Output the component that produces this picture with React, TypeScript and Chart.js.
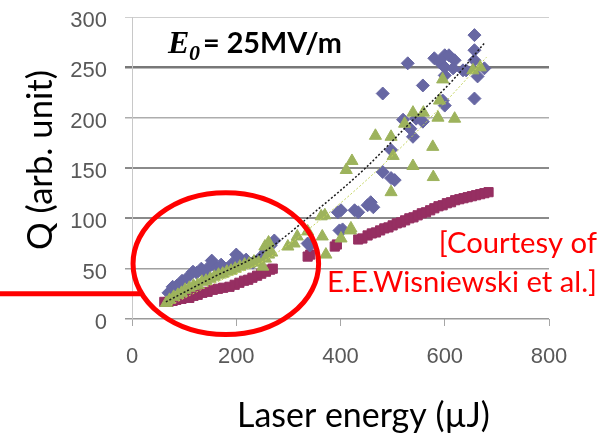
import React, { useEffect, useRef } from "react";
import { Chart, registerables } from "chart.js";

Chart.register(...registerables);

// ---- axes ----
const xMin = 0;
const xMax = 800;
const xStep = 200;
const yMin = 0;
const yMax = 300;
const yStep = 50;

// ---- series 1: blue diamonds ----
const diamondX = [70, 78, 86, 96, 106, 117, 124, 133, 141, 150, 153, 162, 171, 182, 192, 200, 206, 219, 232, 248, 257, 266, 273,
  337, 341, 398, 404, 395, 401, 427, 434, 452, 458, 463,
  481, 497, 497, 504, 520, 534, 539, 545, 558, 481, 529, 558, 580, 590, 600, 608, 619, 600, 616, 635, 600, 596, 600, 641, 657, 657, 657, 663, 676, 657];
const diamondY = [26, 32, 33, 38, 41, 47, 46, 50, 45, 53, 58, 51, 54, 50, 55, 64, 61, 59, 56, 62, 67, 73, 78,
  75, 73, 88, 89, 106, 108, 108, 106, 113, 116, 111,
  146, 140, 168, 138, 198, 189, 181, 199, 196, 224, 254, 232, 259, 255, 262, 262, 257, 250, 249, 247, 242, 217, 212, 247, 282, 267, 257, 241, 249, 219];

// ---- series 2: maroon squares ----
const squareX = [62, 70, 78, 85, 95, 104, 110, 118, 126, 135, 145, 155, 165, 175, 187, 197, 206, 215, 223, 231, 240, 248, 257, 265, 270,
  337, 342, 389, 393,
  434, 442, 452, 460, 468, 476, 484, 492, 500, 508, 516, 524, 532, 540, 548, 556, 564, 572, 580, 588, 596, 604, 612, 620, 628, 636, 644, 652, 660, 668, 676, 684];
const squareY = [17, 17, 18, 19, 20, 22, 21, 23, 24, 26, 27, 29, 30, 31, 32, 34, 36, 38, 39, 41, 43, 45, 47, 49, 50,
  62, 64, 72, 74,
  79, 80, 83, 85, 86, 88, 90, 91, 93, 95, 96, 98, 100, 101, 103, 105, 106, 108, 110, 112, 113, 115, 116, 118, 119, 120, 121, 122, 123, 124, 125, 126];

// ---- series 3: green triangles ----
const triangleX = [66, 72, 80, 88, 95, 102, 110, 118, 126, 134, 142, 150, 158, 166, 174, 182, 190, 198, 207, 216, 225, 234, 243, 251, 256, 262, 268, 255, 262,
  299, 311, 317, 337, 363, 370, 365, 372, 401, 411, 420, 422, 419,
  467, 497, 501, 497, 523, 539, 539, 559, 577, 578, 587, 590, 596, 619, 654, 668];
const triangleY = [16, 19, 22, 24, 26, 29, 31, 33, 34, 37, 38, 40, 42, 44, 45, 47, 48, 50, 52, 54, 55, 57, 56, 52, 60, 64, 66, 72, 76,
  72, 75, 82, 87, 102, 103, 82, 64, 80, 148, 90, 157, 88,
  182, 181, 162, 126, 194, 205, 152, 205, 171, 141, 200, 217, 238, 199, 247, 250];

// ---- trend lines ----
const blackTrendX = [65, 150, 257, 350, 446, 530, 615, 676];
const blackTrendY = [17, 40, 68, 106, 149, 193, 237, 274];
const greenTrendX = [75, 160, 254, 360, 471, 580, 680];
const greenTrendY = [14, 36, 58, 98, 148, 204, 260];

// ---- annotation (in data units) ----
const circleCenter = [180, 55];
const circleRadii = [178, 70.5];
const pointerY = 25;

const pts = (xs: number[], ys: number[]) => xs.map((x, i) => ({ x, y: ys[i] }));

const gridStyle: Record<number, [string, number]> = {
  300: ["#cfcfcf", 1],
  250: ["#787878", 2.5],
  200: ["#adadad", 1.5],
  150: ["#8a8a8a", 2],
  100: ["#8a8a8a", 2],
  50: ["#a0a0a0", 1.5],
  0: ["#9a9a9a", 1.5],
};

function fitFont(ctx: CanvasRenderingContext2D, text: string, style: string, family: string, width: number) {
  ctx.font = `${style} 100px ${family}`;
  const w = ctx.measureText(text).width;
  const size = (100 * width) / w;
  ctx.font = `${style} ${size}px ${family}`;
  return size;
}

const overlayPlugin = {
  id: "overlay",
  afterDraw(chart: any) {
    const ctx: CanvasRenderingContext2D = chart.ctx;
    const xs = chart.scales.x;
    const ys = chart.scales.y;
    ctx.save();
    // red ellipse + pointer line
    const cx = xs.getPixelForValue(circleCenter[0]);
    const cy = ys.getPixelForValue(circleCenter[1]);
    const rx = xs.getPixelForValue(circleCenter[0] + circleRadii[0]) - cx;
    const ry = cy - ys.getPixelForValue(circleCenter[1] + circleRadii[1]);
    ctx.strokeStyle = "#ff0000";
    ctx.lineWidth = 5;
    ctx.beginPath();
    ctx.ellipse(cx, cy, rx, ry, 0, 0, Math.PI * 2);
    ctx.stroke();
    const py = ys.getPixelForValue(pointerY);
    const dy = (py - cy) / ry;
    const ex = cx - rx * Math.sqrt(Math.max(0, 1 - dy * dy));
    ctx.beginPath();
    ctx.moveTo(0, py);
    ctx.lineTo(ex, py);
    ctx.stroke();

    ctx.textBaseline = "alphabetic";
    // title E0 = 25MV/m
    ctx.fillStyle = "#000000";
    ctx.textAlign = "left";
    ctx.font = "bold italic 32px 'Liberation Serif'";
    ctx.fillText("E", 168, 53);
    ctx.font = "bold italic 22px 'Liberation Serif'";
    ctx.fillText("0", 189, 60);
    fitFont(ctx, "= 25MV/m", "bold", "Lato", 139);
    ctx.fillText("= 25MV/m", 203, 53);

    // red courtesy text
    ctx.fillStyle = "#ff0000";
    ctx.textAlign = "right";
    fitFont(ctx, "E.E.Wisniewski et al.]", "normal", "Lato", 270);
    ctx.fillText("[Courtesy of", 597, 253);
    ctx.fillText("E.E.Wisniewski et al.]", 597, 292);

    // axis titles
    ctx.fillStyle = "#000000";
    ctx.textAlign = "left";
    fitFont(ctx, "Laser energy (\u00b5J)", "normal", "Lato", 253);
    ctx.fillText("Laser energy (\u00b5J)", 237, 427);

    ctx.translate(52, 250);
    ctx.rotate(-Math.PI / 2);
    fitFont(ctx, "Q (arb. unit)", "normal", "Lato", 180);
    ctx.fillText("Q (arb. unit)", 0, 0);
    ctx.restore();
  },
};

export default function App() {
  const ref = useRef<HTMLCanvasElement | null>(null);
  useEffect(() => {
    if (!ref.current) return;
    const chart = new Chart(ref.current, {
      type: "scatter",
      data: {
        datasets: [
          {
            type: "line",
            label: "Trend 1",
            data: pts(blackTrendX, blackTrendY),
            borderColor: "#1a1a1a",
            borderWidth: 1.5,
            borderDash: [2, 2],
            pointRadius: 0,
            fill: false,
            tension: 0.4,
            cubicInterpolationMode: "monotone",
          } as any,
          {
            type: "line",
            label: "Trend 3",
            data: pts(greenTrendX, greenTrendY),
            borderColor: "#c2d35a",
            borderWidth: 1,
            borderDash: [2, 2],
            pointRadius: 0,
            fill: false,
            tension: 0.4,
            cubicInterpolationMode: "monotone",
          } as any,
          {
            label: "Triangles",
            data: pts(triangleX, triangleY),
            pointStyle: "triangle",
            pointRadius: 7,
            backgroundColor: "#9db35c",
            borderColor: "#9db35c",
            borderWidth: 1,
          },
          {
            label: "Diamonds",
            data: pts(diamondX, diamondY),
            pointStyle: "rectRot",
            pointRadius: 6.5,
            backgroundColor: "#6767a3",
            borderColor: "#6767a3",
            borderWidth: 1,
          },
          {
            label: "Squares",
            data: pts(squareX, squareY),
            pointStyle: "rect",
            pointRadius: 6.5,
            backgroundColor: "#962f62",
            borderColor: "#962f62",
            borderWidth: 1,
          },
        ],
      },
      options: {
        responsive: false,
        animation: false,
        devicePixelRatio: 1,
        layout: { autoPadding: false, padding: { left: 0, right: 54, top: 17, bottom: 0 } },
        plugins: { legend: { display: false }, tooltip: { enabled: false } },
        scales: {
          x: {
            type: "linear",
            min: xMin,
            max: xMax,
            ticks: {
              stepSize: xStep,
              color: "#595959",
              font: { family: "'Liberation Sans'", size: 22 },
              padding: 18,
              maxRotation: 0,
            },
            grid: { drawOnChartArea: false, drawTicks: true, tickLength: 7, color: "#a6a6a6", lineWidth: 1 },
            border: { display: false },
            afterFit: (s: any) => {
              s.height = 114;
              s.paddingLeft = 0;
              s.paddingRight = 0;
              s.paddingTop = 0;
              s.paddingBottom = 0;
            },
          },
          y: {
            type: "linear",
            min: yMin,
            max: yMax,
            ticks: {
              stepSize: yStep,
              color: "#595959",
              font: { family: "'Liberation Sans'", size: 22 },
              padding: 18,
              labelOffset: 4,
            },
            grid: {
              drawTicks: true,
              tickLength: 7,
              color: (c: any) => (gridStyle[c.tick?.value] || ["#aaaaaa", 1])[0],
              lineWidth: (c: any) => (gridStyle[c.tick?.value] || ["#aaaaaa", 1])[1],
            },
            border: { display: true, color: "#c8c8c8", width: 1 },
            afterFit: (s: any) => {
              s.width = 132;
              s.paddingLeft = 0;
              s.paddingRight = 0;
              s.paddingTop = 0;
              s.paddingBottom = 0;
            },
          },
        },
      },
      plugins: [overlayPlugin],
    });
    return () => chart.destroy();
  }, []);
  return (
    <div style={{ position: "absolute", left: 0, top: 0, width: 603, height: 433, background: "#ffffff" }}>
      <canvas ref={ref} width={603} height={433} />
    </div>
  );
}
